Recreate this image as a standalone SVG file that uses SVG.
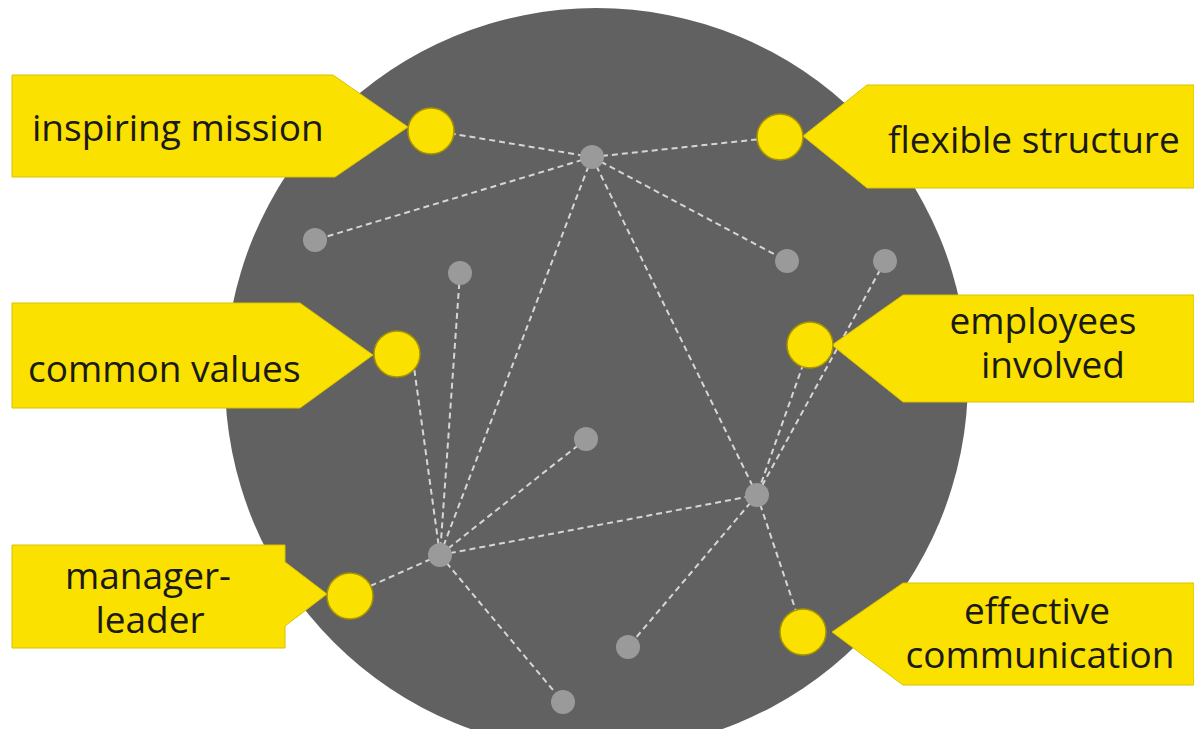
<svg xmlns="http://www.w3.org/2000/svg" width="1194" height="729" viewBox="0 0 1194 729">
<style>
.bg{fill:#616161}
.ln{stroke:#d6d6d6;stroke-width:2;stroke-dasharray:6 4;fill:none}
.nd{fill:#9a9a9a}
.tag{fill:#fbe100;stroke:#d9c200;stroke-width:1}
.dot{fill:#fbe100;stroke:#a89400;stroke-width:1.5}
.t{font-family:"Open Sans","Noto Sans","Liberation Sans",sans-serif;font-size:37px;fill:#1a1a1a}
.c{text-anchor:middle}
</style>
<rect width="1194" height="729" fill="#ffffff"/>
<circle class="bg" cx="596.5" cy="379.5" r="371.5"/>
<g id="connectors">
<line class="ln" x1="430" y1="130" x2="592" y2="157"/>
<line class="ln" x1="592" y1="157" x2="780" y2="137"/>
<line class="ln" x1="592" y1="157" x2="315" y2="240"/>
<line class="ln" x1="592" y1="157" x2="787" y2="261"/>
<line class="ln" x1="592" y1="157" x2="440" y2="555"/>
<line class="ln" x1="592" y1="157" x2="757" y2="495"/>
<line class="ln" x1="460" y1="273" x2="440" y2="555"/>
<line class="ln" x1="413" y1="360" x2="440" y2="555"/>
<line class="ln" x1="586" y1="439" x2="440" y2="555"/>
<line class="ln" x1="440" y1="555" x2="757" y2="495"/>
<line class="ln" x1="440" y1="555" x2="350" y2="595"/>
<line class="ln" x1="440" y1="555" x2="563" y2="702"/>
<line class="ln" x1="757" y1="495" x2="628" y2="647"/>
<line class="ln" x1="757" y1="495" x2="803" y2="632"/>
<line class="ln" x1="885" y1="261" x2="757" y2="495"/>
<line class="ln" x1="810" y1="345" x2="757" y2="495"/>
</g>
<g id="inner-nodes">
<circle class="nd" cx="592" cy="157" r="12"/>
<circle class="nd" cx="315" cy="240" r="12"/>
<circle class="nd" cx="460" cy="273" r="12"/>
<circle class="nd" cx="787" cy="261" r="12"/>
<circle class="nd" cx="885" cy="261" r="12"/>
<circle class="nd" cx="586" cy="439" r="12"/>
<circle class="nd" cx="757" cy="495" r="12"/>
<circle class="nd" cx="440" cy="555" r="12"/>
<circle class="nd" cx="628" cy="647" r="12"/>
<circle class="nd" cx="563" cy="702" r="12"/>
</g>
<g id="inspiring-mission">
<polygon class="tag" points="12,75 333,75 408,127 335,177 12,177"/>
<circle class="dot" cx="431" cy="131" r="23"/>
<text class="t" x="32" y="141">inspiring mission</text>
</g>
<g id="flexible-structure">
<polygon class="tag" points="1194,85 867,85 803,136 867,188 1194,188"/>
<circle class="dot" cx="780" cy="137" r="23"/>
<text class="t" x="888" y="153">flexible structure</text>
</g>
<g id="common-values">
<polygon class="tag" points="12,303 300,303 373,355 300,408 12,408"/>
<circle class="dot" cx="397" cy="354" r="23"/>
<text class="t" x="28" y="382">common values</text>
</g>
<g id="manager-leader">
<polygon class="tag" points="12,545 285,545 285,562 327,594 285,626 285,648 12,648"/>
<circle class="dot" cx="350" cy="596" r="23"/>
<text class="t c" y="589"><tspan x="148">manager-</tspan><tspan x="150" dy="44">leader</tspan></text>
</g>
<g id="employees-involved">
<polygon class="tag" points="1194,295 903,295 832,345 903,402 1194,402"/>
<circle class="dot" cx="810" cy="345" r="23"/>
<text class="t c" y="334"><tspan x="1043">employees</tspan><tspan x="1053" dy="44">involved</tspan></text>
</g>
<g id="effective-communication">
<polygon class="tag" points="1194,583 903,583 832,632 903,685 1194,685"/>
<circle class="dot" cx="803" cy="632" r="23"/>
<text class="t c" y="624"><tspan x="1037">effective</tspan><tspan x="1040" dy="44">communication</tspan></text>
</g>
</svg>
